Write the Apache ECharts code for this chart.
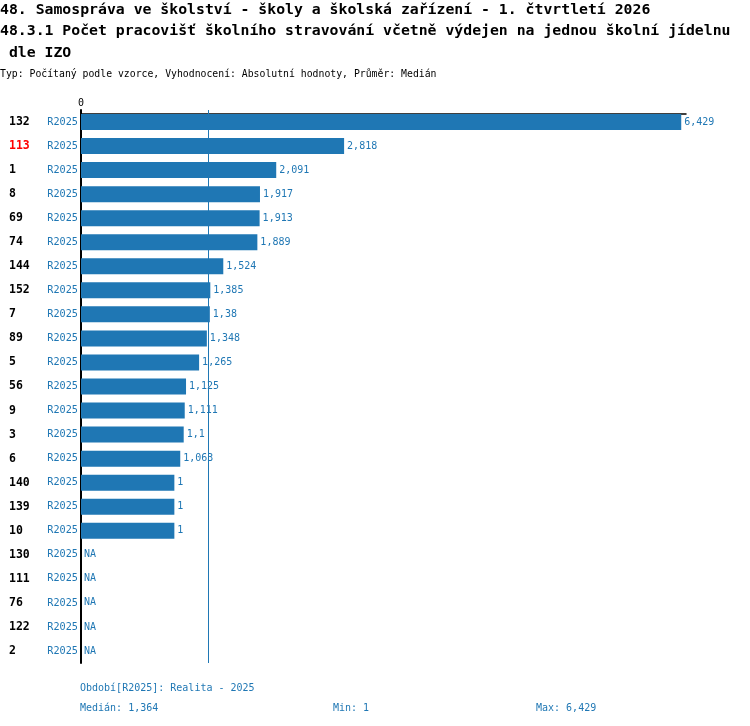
<!DOCTYPE html>
<html>
<head>
<meta charset="utf-8">
<title>48.3.1</title>
<script src="https://cdn.jsdelivr.net/npm/echarts@6/dist/echarts.min.js"></script>
<style>
  html, body { margin: 0; padding: 0; background: #fff; }
  #main { width: 750px; height: 726px; }
</style>
</head>
<body>
<div id="main"></div>
<script>
// data
var categories = ['132', '113', '1', '8', '69', '74', '144', '152', '7', '89', '5', '56', '9', '3', '6', '140', '139', '10', '130', '111', '76', '122', '2'];
var periods = ['R2025', 'R2025', 'R2025', 'R2025', 'R2025', 'R2025', 'R2025', 'R2025', 'R2025', 'R2025', 'R2025', 'R2025',
               'R2025', 'R2025', 'R2025', 'R2025', 'R2025', 'R2025', 'R2025', 'R2025', 'R2025', 'R2025', 'R2025'];
var values = [6429, 2818, 2091, 1917, 1913, 1889, 1524, 1385, 1380, 1348, 1265, 1125, 1111, 1100, 1063, 1000, 1000, 1000,
              null, null, null, null, null];
var highlight = '113';
var axisMax = 6480;

var titleLines = [
    '48. Samospráva ve školství - školy a školská zařízení - 1. čtvrtletí 2026',
    '48.3.1 Počet pracovišť školního stravování včetně výdejen na jednou školní jídelnu',
    ' dle IZO'
];
var subTitle = 'Typ: Počítaný podle vzorce, Vyhodnocení: Absolutní hodnoty, Průměr: Medián';
var periodNote = 'Období[R2025]: Realita - 2025';

var FONT = '"DejaVu Sans Mono", "Liberation Mono", monospace';
var BLUE = '#1f77b4';

// cisla jako v originale (1,380 -> 1,38 ; 1,000 -> 1)
function fmt(v) {
    var s = String(v).replace(/\B(?=(\d{3})+(?!\d))/g, ',');
    if (s.indexOf(',') > -1) {
        s = s.replace(/0+$/, '').replace(/,$/, '');
    }
    return s;
}

// median, min, max z hodnot
var known = values.filter(function (v) { return v !== null; }).sort(function (a, b) { return a - b; });
var n = known.length;
var median = n % 2 ? known[(n - 1) / 2] : (known[n / 2 - 1] + known[n / 2]) / 2;
var minV = known[0];
var maxV = known[n - 1];

var barData = values.map(function (v) {
    if (v === null) {
        return { value: 0, label: { formatter: 'NA' } };
    }
    return v;
});

// jeden textovy radek nahore / dole
function textItem(text, left, top, size, bold, color) {
    return {
        text: text,
        left: left,
        top: top,
        padding: 0,
        textStyle: {
            fontFamily: FONT,
            fontSize: size,
            fontWeight: bold ? 'bold' : 'normal',
            color: color,
            lineHeight: Math.round(size) + 1
        }
    };
}

var myChart = echarts.init(document.getElementById('main'));

var option = {
    animation: false,
    backgroundColor: '#fff',
    textStyle: { fontFamily: FONT },
    title: [
        textItem(titleLines[0], 0, 2, 14.8, true, '#000'),
        textItem(titleLines[1], 0, 23.5, 14.8, true, '#000'),
        textItem(titleLines[2], 0, 45, 14.8, true, '#000'),
        textItem(subTitle, 0, 68.5, 9.8, false, '#000'),
        textItem(periodNote, 80, 683, 10, false, BLUE),
        textItem('Medián: ' + fmt(median), 80, 703, 10, false, BLUE),
        textItem('Min: ' + fmt(minV), 333, 703, 10, false, BLUE),
        textItem('Max: ' + fmt(maxV), 536, 703, 10, false, BLUE)
    ],
    grid: {
        left: 81,
        right: 64,
        top: 110,
        height: 553
    },
    xAxis: {
        type: 'value',
        position: 'top',
        offset: -4,
        min: 0,
        max: axisMax,
        interval: axisMax,
        axisLine: { show: true, lineStyle: { color: '#000', width: 1.5 } },
        axisTick: { show: false },
        splitLine: { show: false },
        axisLabel: {
            showMaxLabel: false,
            margin: 6,
            fontFamily: FONT,
            fontSize: 10,
            color: '#000'
        }
    },
    yAxis: {
        type: 'category',
        inverse: true,
        data: categories,
        axisLine: { show: true, lineStyle: { color: '#000', width: 2 } },
        axisTick: { show: false },
        axisLabel: {
            align: 'left',
            margin: 72,
            formatter: function (val, idx) {
                var st = val === highlight ? 'hl' : 'id';
                return '{' + st + '|' + val + '}{per|' + periods[idx] + '}';
            },
            rich: {
                id: { width: 38, fontFamily: FONT, fontSize: 11.5, fontWeight: 'bold', color: '#000' },
                hl: { width: 38, fontFamily: FONT, fontSize: 11.5, fontWeight: 'bold', color: '#ff0000' },
                per: { width: 31, align: 'right', fontFamily: FONT, fontSize: 10.2, color: BLUE }
            }
        }
    },
    series: [{
        type: 'bar',
        data: barData,
        barWidth: 16,
        itemStyle: { color: BLUE },
        label: {
            show: true,
            position: 'right',
            distance: 3,
            fontFamily: FONT,
            fontSize: 10,
            color: BLUE,
            formatter: function (p) { return fmt(p.value); }
        },
        markLine: {
            silent: true,
            symbol: 'none',
            label: { show: false },
            lineStyle: { color: BLUE, type: 'solid', width: 1 },
            data: [{ xAxis: median }]
        }
    }]
};

myChart.setOption(option);
</script>
</body>
</html>
